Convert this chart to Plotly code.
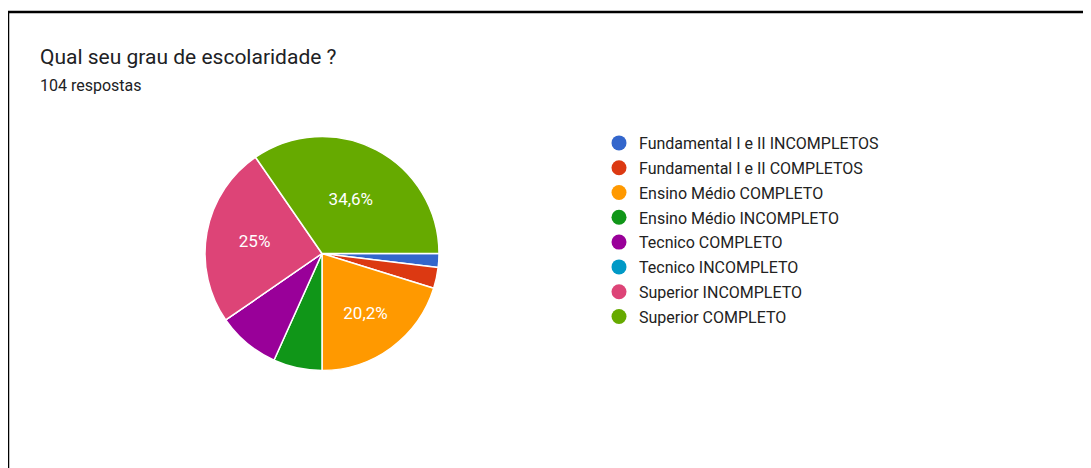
import plotly.graph_objects as go

# Respostas por categoria (104 no total)
labels = [
    "Fundamental I e II INCOMPLETOS",
    "Fundamental I e II COMPLETOS",
    "Ensino Médio COMPLETO",
    "Ensino Médio INCOMPLETO",
    "Tecnico COMPLETO",
    "Tecnico INCOMPLETO",
    "Superior INCOMPLETO",
    "Superior COMPLETO",
]
values = [2, 3, 21, 7, 9, 0, 26, 36]
colors = ["#3366cc", "#dc3912", "#ff9900", "#109618",
          "#990099", "#0099c6", "#dd4477", "#66aa00"]

total = sum(values)

W, H = 1091, 468
OFF = 8  # the page body margin shifts the figure by 8px


def px(x):
    return (x - OFF) / W


def py(y):
    return 1 - (y - OFF) / H


# only the big slices get a label, with comma decimals
texts = []
for v in values:
    pct = v / total * 100
    if pct >= 10:
        s = ("%.1f" % pct).rstrip("0").rstrip(".").replace(".", ",")
        texts.append(s + "%")
    else:
        texts.append("")

fig = go.Figure()

fig.add_trace(go.Pie(
    labels=labels,
    values=values,
    text=texts,
    textinfo="text",
    textposition="inside",
    insidetextorientation="horizontal",
    textfont=dict(color="white", size=17, family="Roboto"),
    marker=dict(colors=colors, line=dict(color="white", width=1.5)),
    sort=False,
    direction="clockwise",
    rotation=90,
    showlegend=False,
    domain=dict(x=[px(205), px(439)], y=[py(371), py(136)]),
))

# legend with round markers
for lab, col in zip(labels, colors):
    fig.add_trace(go.Scatter(
        x=[None], y=[None], mode="markers", name=lab,
        marker=dict(color=col, size=15, symbol="circle"),
        legendgroup=lab,
    ))

fig.update_layout(
    width=W, height=H,
    margin=dict(l=0, r=0, t=0, b=0),
    paper_bgcolor="white",
    plot_bgcolor="white",
    font=dict(family="Roboto", color="#202124"),
    xaxis=dict(visible=False),
    yaxis=dict(visible=False),
    legend=dict(
        x=px(599), y=py(126), xanchor="left", yanchor="top",
        font=dict(size=16, color="#222222", family="Roboto"),
        tracegroupgap=1,
        bgcolor="rgba(0,0,0,0)",
    ),
    annotations=[
        dict(text="Qual seu grau de escolaridade ?", x=px(38), y=py(57),
             xref="paper", yref="paper", xanchor="left", yanchor="middle",
             showarrow=False, font=dict(size=21, color="#202124")),
        dict(text="104 respostas", x=px(38), y=py(86),
             xref="paper", yref="paper", xanchor="left", yanchor="middle",
             showarrow=False, font=dict(size=16, color="#202124")),
    ],
    shapes=[
        dict(type="rect", xref="paper", yref="paper",
             x0=px(8), x1=1.05, y0=-0.05, y1=py(12),
             line=dict(color="black", width=2.5)),
    ],
)

fig.write_html("out.html")
